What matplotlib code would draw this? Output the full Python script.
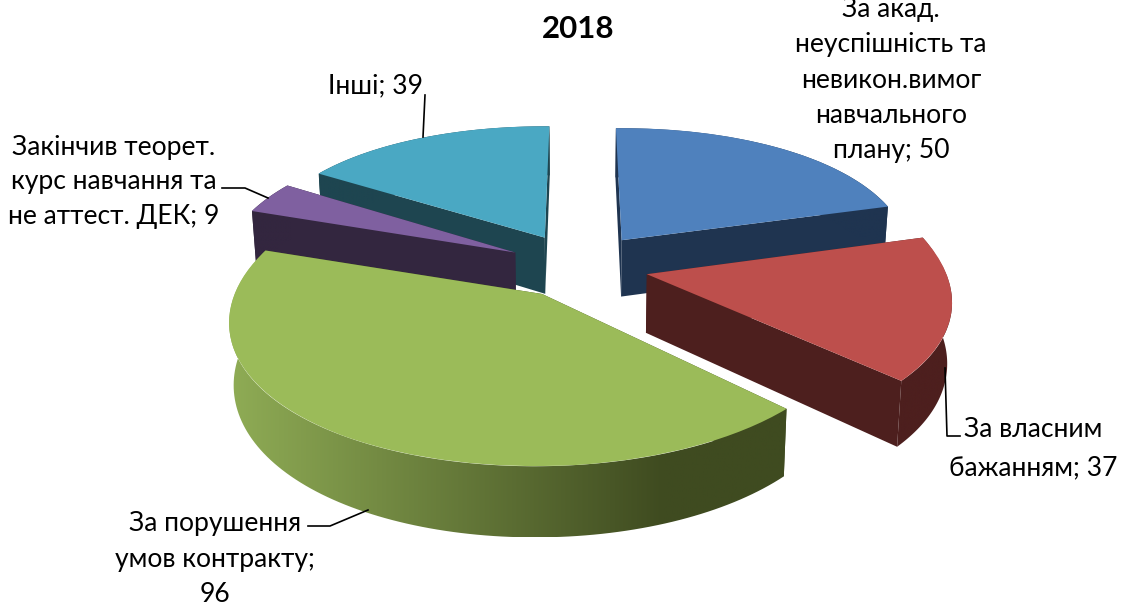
import numpy as np
import matplotlib
matplotlib.use("Agg")
import matplotlib.pyplot as plt
from matplotlib.patches import Polygon
from matplotlib.transforms import Transform
from matplotlib.colors import to_rgb

title = "2018"
categories = ["За акад.\nнеуспішність та\nневикон.вимог\nнавчального\nплану", "За власним\nбажанням",
              "За порушення\nумов контракту", "Закінчив теорет.\nкурс навчання та\nне аттест. ДЕК", "Інші"]
values = [50, 37, 96, 9, 39]
top_colors = ["#4f81bd", "#bd4f4c", "#9bbb59", "#7f60a0", "#4aa8c3"]
wall_colors = ["#1f3450", "#4d1f1e", "#3f4b20", "#33263f", "#1e4550"]
arc_left = ["#1f3450", "#4d1f1e", "#8fac55", "#33263f", "#1e4550"]
arc_right = ["#1f3450", "#4d1f1e", "#3f4b20", "#33263f", "#1e4550"]
draw_order = [0, 4, 3, 1, 2]
explode = [0.24] * 5

CX, CY, RX, RY, KX_BACK, KX_FRONT, KY, DEPTH, SAG, SHRINK = 579, 265, 291, 136, 0.16, 0.205, 0.153, 58, 6, 0.987
GRAD_END = 0.78


class Persp(Transform):
    input_dims = output_dims = 2
    is_separable = False
    has_inverse = False

    def transform_non_affine(self, xy):
        xy = np.asarray(xy, float)
        x, y = xy[:, 0], xy[:, 1]
        kx = np.where(y > 0, KX_BACK, KX_FRONT)
        return np.column_stack([CX + RX * x / (1 + kx * y),
                                CY - RY * y / (1 + KY * y) - SAG * x ** 2])


persp = Persp()


def up(x, y):
    return persp.transform_non_affine(np.column_stack([x, y]))


def low(x, y):
    p = up(x, y)
    p[:, 0] = CX + (p[:, 0] - CX) * SHRINK
    p[:, 1] += DEPTH / (1 + KY * np.asarray(y))
    return p


plt.rcParams["font.family"] = ["Lato", "DejaVu Sans"]
fig = plt.figure(figsize=(11.26, 6.08), dpi=100)
ax = fig.add_axes([0, 0, 1, 1])
wedges, _ = ax.pie(values, explode=explode, startangle=90, counterclock=False,
                   colors=top_colors, radius=1)

z = 2
for i in draw_order:
    w = wedges[i]
    cx0, cy0 = w.center
    th = np.radians(np.linspace(w.theta1, w.theta2, 120))
    ax_x = cx0 + np.cos(th)
    ax_y = cy0 + np.sin(th)
    for a in (0, -1):
        xs = np.array([cx0, ax_x[a]])
        ys = np.array([cy0, ax_y[a]])
        pts = np.vstack([up(xs, ys), low(xs, ys)[::-1]])
        ax.add_patch(Polygon(pts, closed=True, fc=wall_colors[i], ec="none", zorder=z))
    pts = np.vstack([up(ax_x, ax_y), low(ax_x, ax_y)[::-1]])
    poly = Polygon(pts, closed=True, fc="none", ec="none", zorder=z + 0.1)
    ax.add_patch(poly)
    x0, x1 = pts[:, 0].min(), pts[:, 0].max()
    y0, y1 = pts[:, 1].min(), pts[:, 1].max()
    t = np.clip(np.linspace(0, 1, 256) / GRAD_END, 0, 1)[None, :, None]
    grad = (1 - t) * np.array(to_rgb(arc_left[i])) + t * np.array(to_rgb(arc_right[i]))
    im = ax.imshow(grad, extent=(x0, x1, y1, y0), aspect="auto", zorder=z + 0.1)
    im.set_clip_path(poly)
    w.set_transform(persp + ax.transData)
    w.set_edgecolor("none")
    w.set_zorder(z + 0.2)
    z += 1

ax.set_aspect("auto")
ax.set_xlim(0, 1126)
ax.set_ylim(608, 0)
ax.axis("off")

FS = 19.1
ax.text(578, 29, title, ha="center", va="center", fontsize=22.5, fontweight="bold", color="black", zorder=20)

labels = [
    (f"{categories[0]}; {values[0]}", 891, 80, 1.51),
    (f"{categories[1]}; {values[1]}", 1033, 449, 1.66),
    (f"{categories[2]};\n{values[2]}", 215, 559, 1.51),
    (f"{categories[3]}; {values[3]}", 114, 182, 1.49),
    (f"{categories[4]}; {values[4]}", 375, 86, 1.22),
]
for txt, x, y, ls in labels:
    ax.text(x, y, txt, ha="center", va="center", fontsize=FS, color="black", linespacing=ls, zorder=20)

leaders = [
    ([425, 423], [95, 137]),
    ([222, 245, 268], [188, 188, 198]),
    ([945, 947, 960], [368, 436, 436]),
    ([308, 330, 368], [526, 526, 510]),
]
for lx, ly in leaders:
    ax.plot(lx, ly, color="black", lw=1.2, zorder=19)

fig.savefig("out.png", dpi=100)
